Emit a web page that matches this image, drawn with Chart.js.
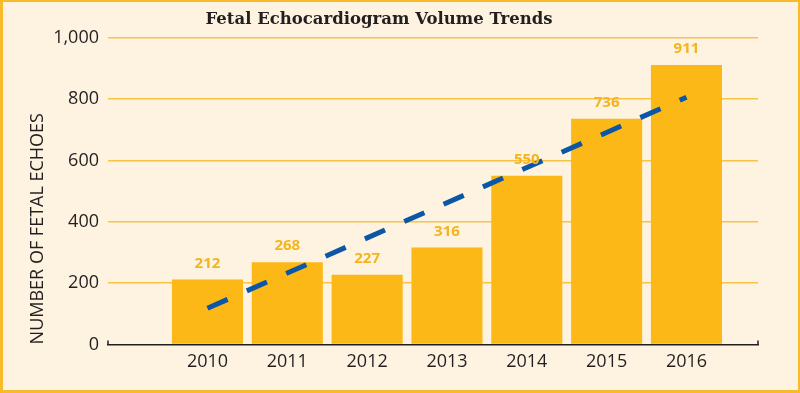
<!DOCTYPE html>
<html>
<head>
<meta charset="utf-8">
<script src="https://cdn.jsdelivr.net/npm/chart.js@4"></script>
<style>
  body { margin: 0; background: #fdf3e0; }
  canvas { display: block; }
</style>
</head>
<body>
<canvas id="chart" width="800" height="393"></canvas>
<script>
const years = [2010, 2011, 2012, 2013, 2014, 2015, 2016];
const volumes = [212, 268, 227, 316, 550, 736, 911];
const trendYears = [2010, 2016];
const trendValues = [118, 806];
const yTicks = [0, 200, 400, 600, 800, 1000];

// fond crème + cadre jaune
const fondCadre = {
    id: 'fondCadre',
    beforeDraw(chart) {
        const { ctx, width, height } = chart;
        ctx.save();
        ctx.fillStyle = '#f8bb2c';
        ctx.fillRect(0, 0, width, height);
        ctx.fillStyle = '#fdf3e0';
        ctx.fillRect(3, 2, width - 5, height - 5);
        ctx.restore();
    }
};

// valeurs au-dessus des barres + petites marques aux bouts de l'axe
const etiquettes = {
    id: 'etiquettes',
    afterDatasetsDraw(chart) {
        const { ctx, chartArea } = chart;
        const meta = chart.getDatasetMeta(1);
        ctx.save();
        ctx.fillStyle = '#f5b41c';
        ctx.font = 'bold 15px "Open Sans"';
        ctx.textAlign = 'center';
        ctx.textBaseline = 'middle';
        meta.data.forEach((bar, i) => {
            ctx.fillText(volumes[i], bar.x, bar.y - 16);
        });
        ctx.strokeStyle = '#231f20';
        ctx.lineWidth = 1.5;
        ctx.beginPath();
        ctx.moveTo(chartArea.left, chartArea.bottom);
        ctx.lineTo(chartArea.left, chartArea.bottom - 4);
        ctx.moveTo(chartArea.right, chartArea.bottom);
        ctx.lineTo(chartArea.right, chartArea.bottom - 4);
        ctx.stroke();
        ctx.restore();
    }
};

new Chart(document.getElementById('chart'), {
    type: 'bar',
    data: {
        datasets: [
            {
                type: 'line',
                data: trendYears.map((x, i) => ({ x, y: trendValues[i] })),
                borderColor: '#0b57a6',
                borderWidth: 5,
                borderDash: [22, 21],
                borderCapStyle: 'butt',
                pointRadius: 0,
                fill: false,
                order: 0
            },
            {
                data: years.map((x, i) => ({ x, y: volumes[i] })),
                backgroundColor: '#fbb817',
                borderWidth: 0,
                categoryPercentage: 1,
                barPercentage: 0.89,
                order: 1
            }
        ]
    },
    options: {
        responsive: false,
        animation: false,
        devicePixelRatio: 1,
        layout: { padding: { left: 0, right: 42, top: 0, bottom: 13 } },
        plugins: {
            legend: { display: false },
            tooltip: { enabled: false },
            title: {
                display: true,
                text: 'Fetal Echocardiogram Volume Trends',
                color: '#231f20',
                font: { family: '"DejaVu Serif"', size: 16.5, weight: 'bold' },
                padding: { top: 10, bottom: 8 }
            }
        },
        scales: {
            x: {
                type: 'linear',
                min: 2008.754,
                max: 2016.896,
                offset: false,
                afterBuildTicks: s => { s.ticks = years.map(v => ({ value: v })); },
                ticks: {
                    autoSkip: false,
                    padding: 7,
                    color: '#231f20',
                    font: { family: '"Open Sans"', size: 18 },
                    callback: v => String(v)
                },
                grid: { display: false, drawTicks: false },
                border: { display: true, color: '#231f20', width: 1.5 }
            },
            y: {
                min: 0,
                max: 1000,
                afterBuildTicks: s => { s.ticks = yTicks.map(v => ({ value: v })); },
                afterFit: s => { s.width = 108; },
                ticks: {
                    padding: 9,
                    color: '#231f20',
                    font: { family: '"Open Sans"', size: 18 }
                },
                grid: {
                    drawTicks: false,
                    lineWidth: 1.5,
                    color: c => c.tick && c.tick.value === 0 ? 'rgba(0,0,0,0)' : '#f9c348'
                },
                border: { display: false },
                title: {
                    display: true,
                    text: 'NUMBER OF FETAL ECHOES',
                    align: 'start',
                    color: '#231f20',
                    font: { family: '"Open Sans"', size: 18 },
                    padding: { top: 27, bottom: 0 }
                }
            }
        }
    },
    plugins: [fondCadre, etiquettes]
});
</script>
</body>
</html>
